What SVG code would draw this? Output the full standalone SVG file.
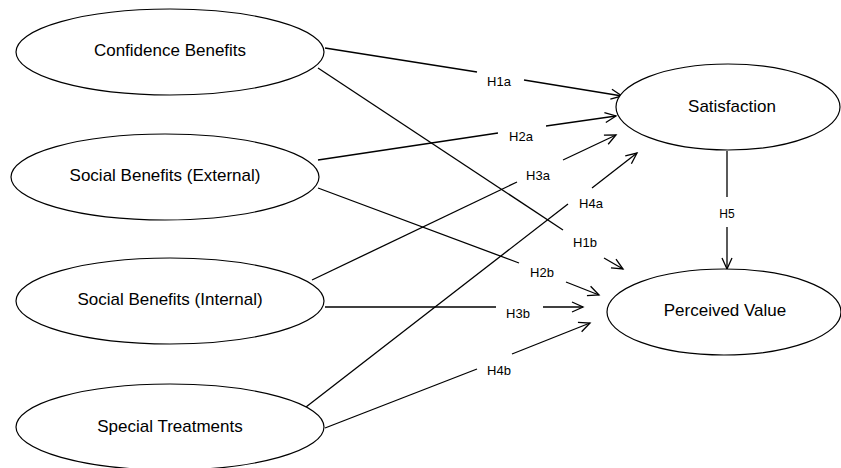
<svg xmlns="http://www.w3.org/2000/svg" width="841" height="468" viewBox="0 0 841 468">
<style>
.node ellipse{fill:#fff;stroke:#000;stroke-width:1.2}
.node text{font-family:"Liberation Sans",Arial,sans-serif;font-size:17px;fill:#000;text-anchor:middle}
.conn line{stroke:#000;stroke-width:1.3}
.lbl{font-family:"Liberation Sans",Arial,sans-serif;font-size:13px;fill:#000;text-anchor:middle}
</style>
<defs>
<marker id="arr" markerUnits="userSpaceOnUse" markerWidth="14" markerHeight="14" viewBox="0 0 14 14" refX="12" refY="7" orient="auto">
<path d="M1,2 L12,7 L1,12" fill="none" stroke="#000" stroke-width="1.3"/>
</marker>
</defs>
<rect width="841" height="468" fill="#fff"/>
<g id="connectors" class="conn">
<line x1="325" y1="48" x2="477" y2="72"/>
<line x1="524" y1="80" x2="622" y2="96" marker-end="url(#arr)"/>
<line x1="318" y1="160" x2="498" y2="133"/>
<line x1="546" y1="126" x2="616" y2="116" marker-end="url(#arr)"/>
<line x1="312" y1="280" x2="517" y2="182"/>
<line x1="563" y1="160" x2="616" y2="135" marker-end="url(#arr)"/>
<line x1="306" y1="407" x2="568" y2="204"/>
<line x1="592" y1="188" x2="637" y2="153" marker-end="url(#arr)"/>
<line x1="318" y1="68" x2="563" y2="230"/>
<line x1="604" y1="258" x2="623" y2="269" marker-end="url(#arr)"/>
<line x1="318" y1="188" x2="519" y2="263"/>
<line x1="566" y1="282" x2="599" y2="295" marker-end="url(#arr)"/>
<line x1="325" y1="307" x2="496" y2="307"/>
<line x1="543" y1="307" x2="583" y2="307" marker-end="url(#arr)"/>
<line x1="325" y1="428" x2="477" y2="369"/>
<line x1="512" y1="354" x2="590" y2="323" marker-end="url(#arr)"/>
<line x1="727" y1="151" x2="727" y2="197"/>
<line x1="727" y1="227" x2="727" y2="269" marker-end="url(#arr)"/>
<text class="lbl" x="499" y="85.5">H1a</text>
<text class="lbl" x="521" y="140.5">H2a</text>
<text class="lbl" x="538" y="179.5">H3a</text>
<text class="lbl" x="591" y="207.5">H4a</text>
<text class="lbl" x="585" y="246.5">H1b</text>
<text class="lbl" x="542" y="276.5">H2b</text>
<text class="lbl" x="518" y="317.5">H3b</text>
<text class="lbl" x="499" y="374.5">H4b</text>
<text class="lbl" x="727" y="217.5" style="font-size:12px">H5</text>
</g>
<g id="confidence" class="node"><ellipse cx="170" cy="52" rx="154" ry="43"/><text x="170" y="56">Confidence Benefits</text></g>
<g id="social-external" class="node"><ellipse cx="165" cy="177" rx="154" ry="43"/><text x="165" y="181">Social Benefits (External)</text></g>
<g id="social-internal" class="node"><ellipse cx="170" cy="301" rx="154" ry="43"/><text x="170" y="305">Social Benefits (Internal)</text></g>
<g id="special" class="node"><ellipse cx="170" cy="427" rx="154" ry="43"/><text x="170" y="432">Special Treatments</text></g>
<g id="satisfaction" class="node"><ellipse cx="728" cy="107" rx="112" ry="43"/><text x="732" y="112">Satisfaction</text></g>
<g id="perceived" class="node"><ellipse cx="724" cy="312" rx="117" ry="43"/><text x="725" y="316">Perceived Value</text></g>
</svg>
